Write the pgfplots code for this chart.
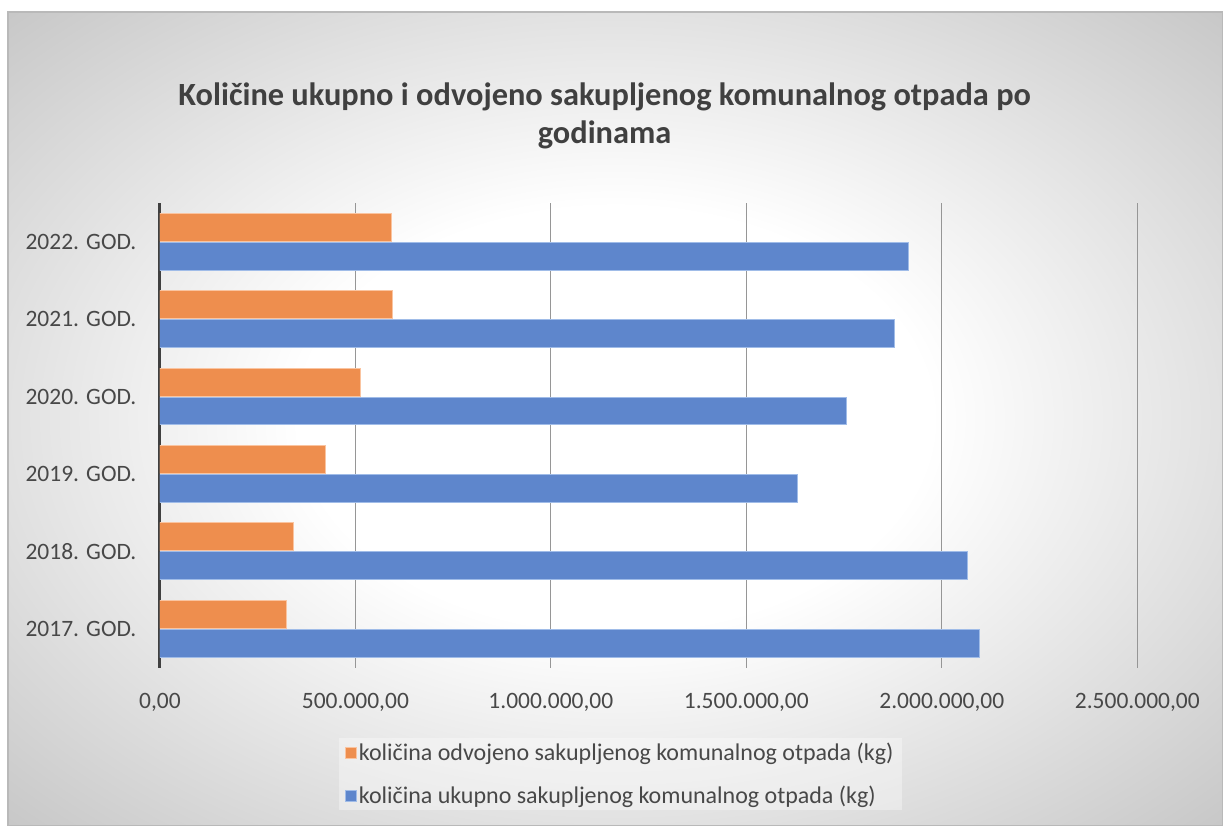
\documentclass[border=0pt]{standalone}
\usepackage{pgfplots}
\pgfplotsset{compat=1.18}
\usepackage{fontspec}
\setmainfont{Carlito}
\definecolor{orangefill}{RGB}{238,142,78}
\definecolor{orangeedge}{RGB}{250,196,160}
\definecolor{bluefill}{RGB}{94,134,204}
\definecolor{blueedge}{RGB}{160,188,232}
\definecolor{gridgray}{RGB}{150,150,150}
\definecolor{axisdark}{RGB}{64,64,64}
\definecolor{labelgray}{RGB}{72,72,72}
\definecolor{titlegray}{RGB}{64,64,64}
\definecolor{bordergray}{RGB}{185,185,185}
\definecolor{bgedge}{RGB}{198,198,198}
\pgfdeclareradialshading{chartbg}{\pgfpoint{0bp}{0bp}}{color(0bp)=(white); color(13bp)=(white); color(36bp)=(bgedge); color(50bp)=(bgedge)}
\begin{document}
\begin{tikzpicture}[x=1pt,y=1pt]
\fill[white] (0,0) rectangle (1223,826);
\shade[shading=chartbg] (8,0) rectangle (1223,814);
\draw[color=bordergray, line width=1.5pt] (8,0) rectangle (1223,814);
\node[font=\fontsize{32.4}{38}\selectfont\bfseries, text=titlegray, align=center] at (605,710) {Količine ukupno i odvojeno sakupljenog komunalnog otpada po\\godinama};
\begin{axis}[
  at={(160pt,158pt)}, anchor=south west,
  scale only axis, width=978pt, height=465pt,
  xmin=0, xmax=2500000, ymin=-0.5, ymax=5.5,
  axis x line*=bottom, axis y line*=left,
  separate axis lines,
  x axis line style={draw=none},
  y axis line style={-, line width=3pt, color=axisdark},
  xmajorgrids, grid style={color=gridgray, line width=1pt},
  major tick length=0pt,
  xtick={0,500000,1000000,1500000,2000000,2500000},
  scaled x ticks=false,
  xticklabel style={/pgf/number format/fixed, /pgf/number format/fixed zerofill, /pgf/number format/precision=2, /pgf/number format/1000 sep={.}, /pgf/number format/dec sep={,}, /pgf/number format/assume math mode=true},
  xticklabel style={yshift=-22pt, font=\fontsize{23.5}{28}\selectfont, text=labelgray},
  ytick={0,1,2,3,4,5},
  yticklabels={2017. GOD.,2018. GOD.,2019. GOD.,2020. GOD.,2021. GOD.,2022. GOD.},
  yticklabel style={xshift=-20pt, font=\fontsize{23.5}{28}\selectfont, text=labelgray},
  legend style={at={(0.471,-0.152)}, anchor=north, draw=none, fill=white, fill opacity=0.35, text opacity=1,
    font=\fontsize{24}{28}\selectfont, text=labelgray, cells={anchor=west}, row sep=20pt,
    inner xsep=6pt, inner ysep=3pt},
  legend image code/.code={\fill[#1, fill opacity=1] (0pt,-5.5pt) rectangle (11pt,5.5pt);},
]
\addplot[xbar, bar width=28pt, bar shift=14.5pt, fill=orangefill, draw=orangeedge, line width=1pt]
  coordinates {(323000,0) (341000,1) (423000,2) (513500,3) (595000,4) (592000,5)};
\addlegendentry{količina odvojeno sakupljenog komunalnog otpada (kg)}
\addplot[xbar, bar width=28pt, bar shift=-14.5pt, fill=bluefill, draw=blueedge, line width=1pt]
  coordinates {(2096000,0) (2065000,1) (1630000,2) (1756500,3) (1878000,4) (1914000,5)};
\addlegendentry{količina ukupno sakupljenog komunalnog otpada (kg)}
\end{axis}
\end{tikzpicture}
\end{document}
